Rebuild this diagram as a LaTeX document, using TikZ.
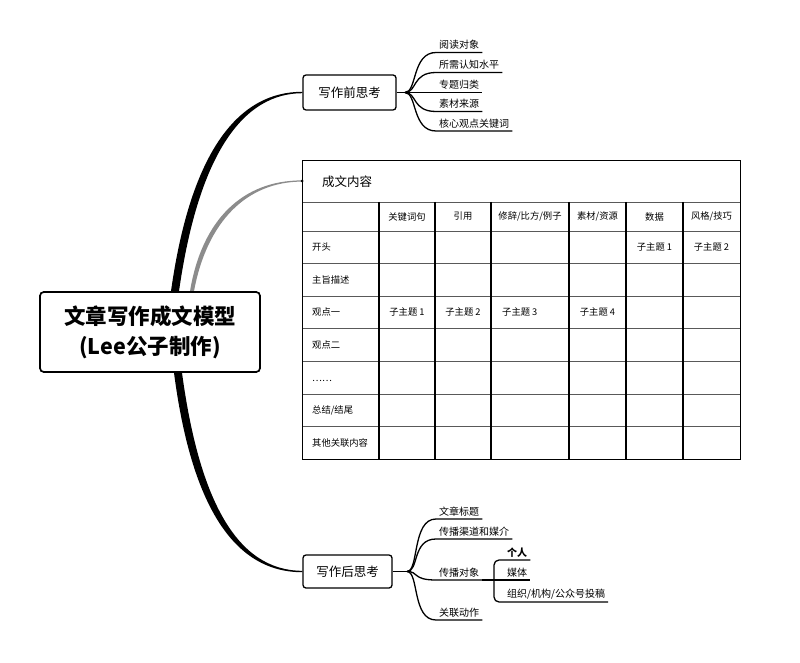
\documentclass[tikz,border=0pt]{standalone}
\usepackage{fontspec}
\setmainfont{Noto Sans CJK SC}
\usetikzlibrary{calc}
\begin{document}
\begin{tikzpicture}[x=1pt,y=-1pt,
  mainbox/.style={draw, line width=1.6pt, rounded corners=4pt, fill=white, align=center,
    font=\fontsize{21.5}{30}\selectfont\bfseries, minimum width=220, minimum height=80, inner sep=0},
  subbox/.style={draw, line width=1.3pt, rounded corners=3pt, fill=white,
    font=\fontsize{12.5}{15}\selectfont, minimum width=92, minimum height=35, inner sep=0},
  leaf/.style={font=\fontsize{10}{12}\selectfont, anchor=south west, inner xsep=3, inner ysep=2.5},
  uline/.style={line width=1.3pt},
  tcell/.style={font=\fontsize{9.3}{11}\selectfont, inner sep=0},
  hline/.style={line width=0.7pt, black!65},
  vline/.style={line width=1.1pt, black},
]
\useasboundingbox (0,0) rectangle (800,663);

% ---------- nodes ----------
\node[mainbox] (root) at (150,332) {文章写作成文模型\\(Lee公子制作)};
\node[subbox, minimum width=93] (b1) at (349.5,92.5) {写作前思考};
\node[subbox, minimum width=89, minimum height=33] (b2) at (347.5,571.5) {写作后思考};
\node[draw, line width=0.8pt, minimum width=438, minimum height=299, anchor=north west, inner sep=0] (tbl) at (302,160) {};

% ---------- main tapered connectors ----------
\fill ($(root.north)+(21,0)$) .. controls ($(root.north)+(41,-142)$) and ($(b1.west)+(-63,-0.8)$) .. ($(b1.west)+(0,-0.7)$)
   -- ($(b1.west)+(0,0.7)$) .. controls ($(b1.west)+(-58,0.8)$) and ($(root.north)+(49,-140)$) .. ($(root.north)+(29,0)$) -- cycle;
\fill[black!45] ($(root.north)+(40,0)$) .. controls ($(root.north)+(52,-72)$) and ($(tbl.north west)+(-59,20.3)$) .. ($(tbl.north west)+(0,20.4)$)
   -- ($(tbl.north west)+(0,21.6)$) .. controls ($(tbl.north west)+(-55,21.7)$) and ($(root.north)+(57,-70)$) .. ($(root.north)+(44,0)$) -- cycle;
\fill[black] ($(tbl.north west)+(0,21)$) circle (1.5);
\fill ($(root.south)+(24,0)$) .. controls ($(root.south)+(41,130)$) and ($(b2.west)+(-70,0.8)$) .. ($(b2.west)+(0,0.7)$)
   -- ($(b2.west)+(0,-0.7)$) .. controls ($(b2.west)+(-66,-0.8)$) and ($(root.south)+(49,126)$) .. ($(root.south)+(32,0)$) -- cycle;
\node[mainbox] at (root) {文章写作成文模型\\(Lee公子制作)};

% ---------- top branch ----------
\coordinate (j1) at (405,92.5);
\draw[uline] (b1.east) -- (j1);
\node[leaf] (a1) at (436,52.5) {阅读对象};
\node[leaf] (a2) at (436,72.5) {所需认知水平};
\node[leaf] (a3) at (436,92.5) {专题归类};
\node[leaf] (a4) at (436,111.5) {素材来源};
\node[leaf] (a5) at (436,131) {核心观点关键词};
\foreach \n in {a1,a2,a3,a4,a5}
  \draw[uline] (j1) .. controls +(12,0) and +(-24,0) .. (\n.south west) -- (\n.south east);

% ---------- bottom branch ----------
\coordinate (j2) at (407,571.5);
\draw[uline] (b2.east) -- (j2);
\node[leaf] (c1) at (436,519) {文章标题};
\node[leaf] (c2) at (436,539) {传播渠道和媒介};
\node[leaf] (c3) at (436,580) {传播对象};
\node[leaf] (c4) at (436,620) {关联动作};
\foreach \n in {c1,c2,c3,c4}
  \draw[uline] (j2) .. controls +(12,0) and +(-24,0) .. (\n.south west) -- (\n.south east);
\coordinate (k) at (494,580);
\node[leaf, font=\fontsize{10}{12}\selectfont\bfseries] (d1) at (504,560) {个人};
\node[leaf] (d2) at (504,580) {媒体};
\node[leaf] (d3) at (504,602) {组织/机构/公众号投稿};
\draw[uline] (c3.south east) -- (k) -- (d2.south east);
\draw[uline, rounded corners=5pt] (d1.south east) -- (d1.south west -| k) -- (d3.south west -| k) -- (d3.south east);

% ---------- table ----------
\foreach \y in {202,231,263,296,328,361,394,426}
  \draw[hline] (302,\y) -- (740,\y);
\foreach \x in {379,435,491,569,626,683}
  \draw[vline] (\x,202) -- (\x,459);
\draw[line width=0.8pt] (tbl.north west) rectangle (tbl.south east);
\draw[line width=1.2pt] (tbl.south west) -- (tbl.south east);

\node[font=\fontsize{12.5}{15}\selectfont, anchor=west, inner sep=0] (ttl) at (322,182) {成文内容};

\node[tcell] (h1) at (407,216.5) {关键词句};
\node[tcell] (h2) at (463,216.5) {引用};
\node[tcell] (h3) at (530,216.5) {修辞/比方/例子};
\node[tcell] (h4) at (597.5,216.5) {素材/资源};
\node[tcell] (h5) at (654.5,216.5) {数据};
\node[tcell] (h6) at (711.5,216.5) {风格/技巧};

\node[tcell, anchor=west] (r1) at (312,247) {开头};
\node[tcell, anchor=west] (r2) at (312,279.5) {主旨描述};
\node[tcell, anchor=west] (r3) at (312,312) {观点一};
\node[tcell, anchor=west] (r4) at (312,344.5) {观点二};
\node[tcell, anchor=west] (r5) at (312,380) {\raisebox{-2.5pt}{……}};
\node[tcell, anchor=west] (r6) at (312,410) {总结/结尾};
\node[tcell, anchor=west] (r7) at (312,442.5) {其他关联内容};

\node[tcell] (s15) at (654.5,247) {子主题 1};
\node[tcell] (s16) at (711.5,247) {子主题 2};
\node[tcell] (s31) at (407,312) {子主题 1};
\node[tcell] (s32) at (463,312) {子主题 2};
\node[tcell, anchor=west] (s33) at (502,312) {子主题 3};
\node[tcell] (s34) at (597.5,312) {子主题 4};
\end{tikzpicture}
\end{document}
